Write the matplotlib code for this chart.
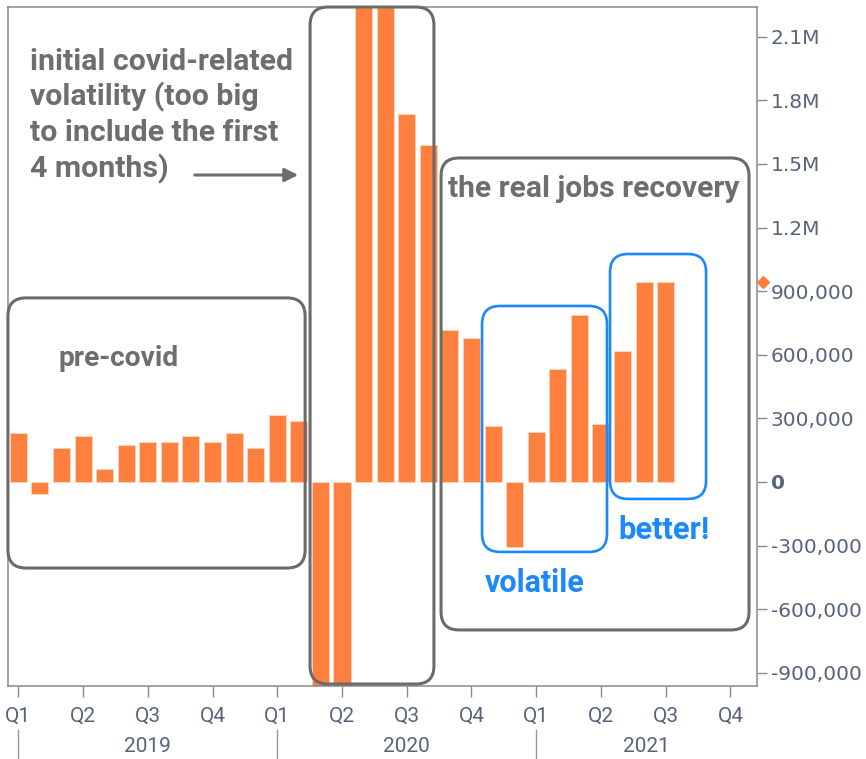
import matplotlib
matplotlib.use("Agg")
import matplotlib.pyplot as plt
import matplotlib.transforms as mtransforms
from matplotlib.patches import FancyBboxPatch, FancyArrowPatch
import numpy as np

# ---------------- data ----------------
months_2019 = ["Jan", "Feb", "Mar", "Apr", "May", "Jun", "Jul", "Aug", "Sep", "Oct", "Nov", "Dec"]
months_2020 = ["Jan", "Feb", "Mar", "Apr", "May", "Jun", "Jul", "Aug", "Sep", "Oct", "Nov", "Dec"]
months_2021 = ["Jan", "Feb", "Mar", "Apr", "May", "Jun", "Jul"]
jobs_2019 = [233000, -55000, 160000, 217000, 63000, 173000, 189000, 189000, 217000, 189000, 233000, 160000]
jobs_2020 = [314000, 288000, -1400000, -20500000, 2700000, 4800000, 1733000, 1589000, 715000, 679000, 263000, -306000]
jobs_2021 = [236000, 535000, 789000, 272000, 616000, 942000, 942000]

quarter_labels = ["Q1", "Q2", "Q3", "Q4"] * 3
year_labels = ["2019", "2020", "2021"]
y_tick_values = [-900000, -600000, -300000, 0, 300000, 600000, 900000, 1200000, 1500000, 1800000, 2100000]
y_tick_labels = ["-900,000", "-600,000", "-300,000", "0", "300,000", "600,000", "900,000",
                 "1.2M", "1.5M", "1.8M", "2.1M"]

# annotation boxes (month index, value)
gray_boxes = [(-0.48, -406000, 13.29, 868000),
              (13.52, -953000, 19.26, 2240000),
              (19.59, -698000, 33.86, 1528000)]
blue_boxes = [(21.49, -330000, 27.28, 830000),
              (27.42, -80000, 31.87, 1075000)]

# ---------------- styling ----------------
ORANGE = "#FF7F3F"
GRAY_TXT = "#6e6e6e"
GRAY_BOX = "#6b6b6b"
BLUE = "#1a88ff"
TICK_COL = "#56637a"
SPINE = "#8a8a8a"
ANN_FONT = ["Roboto", "DejaVu Sans"]
NARROW = ["Roboto", "DejaVu Sans"]

W, H = 866, 759
fig = plt.figure(figsize=(W / 100, H / 100), dpi=100)
ax = fig.add_axes([8 / W, 1 - 685.5 / H, (757 - 8) / W, (685.5 - 7) / H])

values = jobs_2019 + jobs_2020 + jobs_2021
x = np.arange(len(values))
ax.bar(x, values, width=0.79, color=ORANGE, edgecolor="#ffd6bd", linewidth=0.6, zorder=2)

ax.set_xlim(-0.477, 34.23)
ax.set_ylim(-960000, 2240000)

for s in ax.spines.values():
    s.set_color(SPINE)
    s.set_linewidth(1.1)

# y axis on right
ax.yaxis.tick_right()
ax.set_yticks(y_tick_values)
ax.set_yticklabels(y_tick_labels, family="DejaVu Sans")
ax.tick_params(axis="y", direction="out", length=7, width=1, color=SPINE, pad=3,
               labelsize=14.5, labelcolor=TICK_COL)
for lab in ax.get_yticklabels():
    if lab.get_text() == "0":
        lab.set_fontweight("bold")

# x axis quarters
qpos = np.arange(0, 36, 3)
ax.set_xticks(qpos)
ax.set_xticklabels(quarter_labels, family=NARROW)
ax.tick_params(axis="x", direction="out", length=8, width=1, color=SPINE, pad=7,
               labelsize=15, labelcolor=TICK_COL)

blend = mtransforms.blended_transform_factory(ax.transData, ax.transAxes)
ax_h_px = 685.5 - 7
for i, yl in enumerate(year_labels):
    start = 12 * i
    end = start + 12 if i < 2 else ax.get_xlim()[1]
    ax.plot([start, start], [(685.5 - 730) / ax_h_px, (685.5 - 760) / ax_h_px],
            transform=blend, color="#9a9a9a", lw=1, clip_on=False)
    ax.text((start + end) / 2, (685.5 - 746) / ax_h_px, yl, transform=blend,
            ha="center", va="center", fontsize=15, color=TICK_COL, family=NARROW)

# diamond marker for the latest value
blend2 = mtransforms.blended_transform_factory(ax.transAxes, ax.transData)
ax.plot([1 + 6 / 749], [values[-1]], marker="D", ms=6, color=ORANGE, transform=blend2,
        clip_on=False, zorder=5)

# ---------------- rounded boxes ----------------
fig.canvas.draw()
ident = mtransforms.IdentityTransform()


def add_box(b, color, lw, r):
    (x0, y0) = ax.transData.transform((b[0], b[1]))
    (x1, y1) = ax.transData.transform((b[2], b[3]))
    p = FancyBboxPatch((x0, y0), x1 - x0, y1 - y0,
                       boxstyle=f"round,pad=0,rounding_size={r}",
                       fill=False, edgecolor=color, linewidth=lw,
                       transform=ident, zorder=3)
    fig.add_artist(p)


for b in gray_boxes:
    add_box(b, GRAY_BOX, 2.2, 18)
for b in blue_boxes:
    add_box(b, BLUE, 1.9, 18)

# ---------------- texts ----------------
renderer = fig.canvas.get_renderer()


def fit_size(text, target_w):
    t = fig.text(0, 0, text, fontsize=20, fontweight="bold", family=ANN_FONT)
    w = t.get_window_extent(renderer).width
    t.remove()
    return 20 * target_w / w


def ptext(px, py, s, size, color):
    fig.text(px / W, 1 - py / H, s, fontsize=size, fontweight="bold", color=color,
             ha="left", va="baseline", family=ANN_FONT)


covid_lines = ["initial covid-related", "volatility (too big", "to include the first", "4 months)"]
fs_c = fit_size(covid_lines[0], 263)
for line, by in zip(covid_lines, [70, 105.5, 141, 177]):
    ptext(30, by, line, fs_c, GRAY_TXT)

fig.add_artist(FancyArrowPatch(
    (192, H - 175), (301, H - 175), transform=ident, arrowstyle="-|>,head_length=8,head_width=4",
    color=GRAY_TXT, lw=2.2, mutation_scale=1))

ptext(58, 366, "pre-covid", fit_size("pre-covid", 120), GRAY_TXT)
ptext(448, 197, "the real jobs recovery", fit_size("the real jobs recovery", 290), GRAY_TXT)
ptext(485, 592, "volatile", fit_size("volatile", 100), BLUE)
ptext(618, 539, "better!", fit_size("better!", 91), BLUE)

fig.savefig("out.png", dpi=100)
